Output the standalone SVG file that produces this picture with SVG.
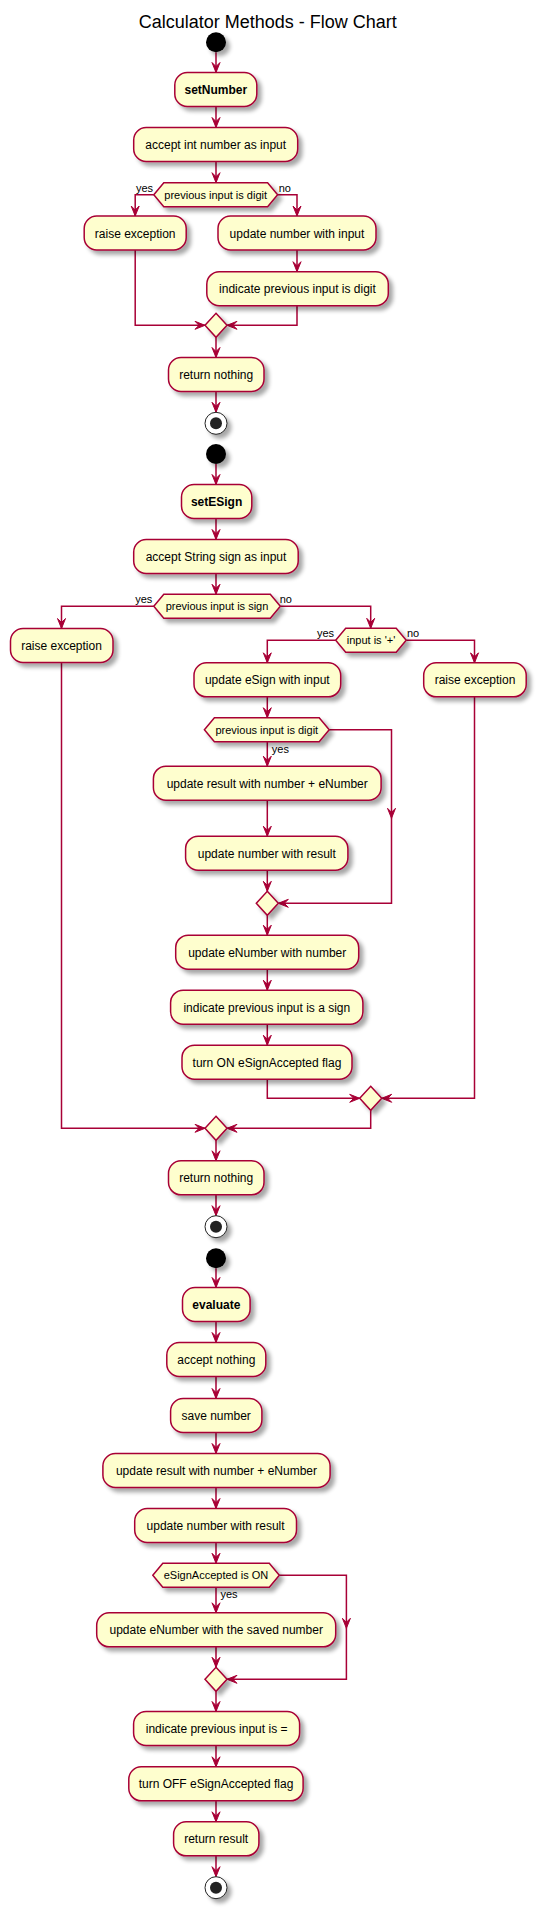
<svg xmlns="http://www.w3.org/2000/svg" width="536" height="1908" viewBox="0 0 536 1908">
<style>
.box{fill:#FEFECE;stroke:#A80036;stroke-width:1.5;filter:url(#sh)}
.t{font-family:"Liberation Sans",Arial,sans-serif;font-size:12px;fill:#000;text-anchor:middle}
.b{font-weight:bold}
.s{font-family:"Liberation Sans",Arial,sans-serif;font-size:11px;fill:#000}
.h{text-anchor:middle}
.e{text-anchor:end}
.c path{fill:none;stroke:#A80036;stroke-width:1.5;marker-end:url(#ah)}
.start{fill:#000;filter:url(#sh)}
</style>
<defs>
<filter id="sh" x="-20%" y="-20%" width="160%" height="160%">
<feGaussianBlur in="SourceAlpha" stdDeviation="2"/>
<feOffset dx="4" dy="4" result="o"/>
<feComponentTransfer><feFuncA type="linear" slope="0.35"/></feComponentTransfer>
<feMerge><feMergeNode/><feMergeNode in="SourceGraphic"/></feMerge>
</filter>
<marker id="ah" viewBox="-11 -5 12 10" refX="0" refY="0" markerWidth="12" markerHeight="10" markerUnits="userSpaceOnUse" orient="auto">
<path d="M0,0 L-10,-4 L-6,0 L-10,4 Z" fill="#A80036" stroke="#A80036" stroke-width="1"/>
</marker>
</defs>
<rect width="536" height="1908" fill="#fff"/>
<text x="267.7" y="28.3" style="font-family:'Liberation Sans',Arial,sans-serif;font-size:18px;text-anchor:middle">Calculator Methods - Flow Chart</text>

<g class="c" id="connectors">
<path d="M216,52.3V72.5"/>
<path d="M216,106.5V127.5"/>
<path d="M216,161.5V182.7"/>
<path d="M153.8,194.7H135.2V216"/>
<path d="M277.6,194.7H297V216"/>
<path d="M297,250V271.7"/>
<path d="M135.2,250V325.3H205"/>
<path d="M297,305.7V325.3H227"/>
<path d="M216,337.3V357.5"/>
<path d="M216,391.5V412.3"/>
<path d="M216,464V484.5"/>
<path d="M216,518.5V539.5"/>
<path d="M216,573.5V594.3"/>
<path d="M153.8,606.3H61.5V628.5"/>
<path d="M280.3,606.3H370.7V628.3"/>
<path d="M335.7,640.3H267.3V662.8"/>
<path d="M406.2,640.3H474.5V662.8"/>
<path d="M267.3,696.8V717.7"/>
<path d="M267.3,741.7V766.2"/>
<path d="M329.2,729.7H391.5V818.3"/>
<path d="M391.5,818V903.3H278.3"/>
<path d="M267.3,800.2V836.2"/>
<path d="M267.3,870.2V891.3"/>
<path d="M267.3,915.3V935.2"/>
<path d="M267.3,969.2V990.2"/>
<path d="M267.3,1024.2V1045.2"/>
<path d="M267.3,1079.2V1098.3H359.7"/>
<path d="M474.5,696.8V1098.3H381.7"/>
<path d="M370.7,1110.3V1128.3H227"/>
<path d="M61.5,662.5V1128.3H205"/>
<path d="M216,1140.3V1160.8"/>
<path d="M216,1194.8V1215.7"/>
<path d="M216,1268.3V1287.5"/>
<path d="M216,1321.5V1342.5"/>
<path d="M216,1376.5V1398.5"/>
<path d="M216,1432.5V1453.5"/>
<path d="M216,1487.5V1508.5"/>
<path d="M216,1542.5V1563.3"/>
<path d="M216,1587.3V1612.8"/>
<path d="M279.3,1575.3H346.4V1628.3"/>
<path d="M346.4,1628V1679.3H227"/>
<path d="M216,1646.8V1667.3"/>
<path d="M216,1691.3V1711.5"/>
<path d="M216,1745.5V1766.8"/>
<path d="M216,1800.8V1821.8"/>
<path d="M216,1855.8V1876.7"/>
</g>

<g id="start1"><circle class="start" cx="216" cy="42.3" r="10"/></g>
<g id="setNumber"><rect class="box" x="174.8" y="72.5" width="82" height="34" rx="12.5"/><text class="t b" x="215.8" y="94">setNumber</text></g>
<g id="acceptInt"><rect class="box" x="133.7" y="127.5" width="164" height="34" rx="12.5"/><text class="t" x="215.7" y="149">accept int number as input</text></g>
<g id="ifDigit1"><polygon class="box" points="153.8,194.7 163.8,182.7 267.6,182.7 277.6,194.7 267.6,206.7 163.8,206.7"/><text class="s h" x="215.7" y="198.7">previous input is digit</text>
<text class="s e" x="153" y="191.5">yes</text><text class="s" x="278.7" y="191.5">no</text></g>
<g id="raise1"><rect class="box" x="84.2" y="216" width="102" height="34" rx="12.5"/><text class="t" x="135.2" y="237.5">raise exception</text></g>
<g id="updNumIn"><rect class="box" x="218" y="216" width="158" height="34" rx="12.5"/><text class="t" x="297" y="237.5">update number with input</text></g>
<g id="indDigit"><rect class="box" x="206.8" y="271.7" width="181.5" height="34" rx="12.5"/><text class="t" x="297.5" y="293.2">indicate previous input is digit</text></g>
<g id="merge1"><polygon class="box" points="216,313.3 227,325.3 216,337.3 205,325.3"/></g>
<g id="return1"><rect class="box" x="168.5" y="357.5" width="95.5" height="34" rx="12.5"/><text class="t" x="216.2" y="379">return nothing</text></g>
<g id="end1"><circle cx="216" cy="423.3" r="11" fill="#fff" stroke="#222" stroke-width="1" filter="url(#sh)"/><circle cx="216" cy="423.3" r="6" fill="#222"/></g>

<g id="start2"><circle class="start" cx="216" cy="454" r="10"/></g>
<g id="setESign"><rect class="box" x="181.5" y="484.5" width="70.3" height="34" rx="12.5"/><text class="t b" x="216.6" y="506">setESign</text></g>
<g id="acceptStr"><rect class="box" x="133.7" y="539.5" width="164.5" height="34" rx="12.5"/><text class="t" x="216" y="561">accept String sign as input</text></g>
<g id="ifSign"><polygon class="box" points="153.8,606.3 163.8,594.3 270.3,594.3 280.3,606.3 270.3,618.3 163.8,618.3"/><text class="s h" x="217" y="610.3">previous input is sign</text>
<text class="s e" x="152.3" y="603">yes</text><text class="s" x="279.7" y="603">no</text></g>
<g id="raise2"><rect class="box" x="10.5" y="628.5" width="102.5" height="34" rx="12.5"/><text class="t" x="61.5" y="650">raise exception</text></g>
<g id="ifPlus"><polygon class="box" points="335.7,640.3 345.7,628.3 396.2,628.3 406.2,640.3 396.2,652.3 345.7,652.3"/><text class="s h" x="371" y="644.3">input is '+'</text>
<text class="s e" x="334" y="637">yes</text><text class="s" x="407" y="637">no</text></g>
<g id="updESign"><rect class="box" x="194" y="662.8" width="146.7" height="34" rx="12.5"/><text class="t" x="267.3" y="684.3">update eSign with input</text></g>
<g id="raise3"><rect class="box" x="423.7" y="662.8" width="102.5" height="34" rx="12.5"/><text class="t" x="475" y="684.3">raise exception</text></g>
<g id="ifDigit2"><polygon class="box" points="204.4,729.7 214.4,717.7 319.2,717.7 329.2,729.7 319.2,741.7 214.4,741.7"/><text class="s h" x="266.8" y="733.7">previous input is digit</text>
<text class="s" x="271.8" y="752.5">yes</text></g>
<g id="updResult1"><rect class="box" x="153.4" y="766.2" width="227.7" height="34" rx="12.5"/><text class="t" x="267.2" y="787.7">update result with number + eNumber</text></g>
<g id="updNumRes1"><rect class="box" x="185.6" y="836.2" width="162.3" height="34" rx="12.5"/><text class="t" x="266.8" y="857.7">update number with result</text></g>
<g id="merge2"><polygon class="box" points="267.3,891.3 278.3,903.3 267.3,915.3 256.3,903.3"/></g>
<g id="updENum"><rect class="box" x="175.7" y="935.2" width="183" height="34" rx="12.5"/><text class="t" x="267.2" y="956.7">update eNumber with number</text></g>
<g id="indSign"><rect class="box" x="170.6" y="990.2" width="192.3" height="34" rx="12.5"/><text class="t" x="266.8" y="1011.7">indicate previous input is a sign</text></g>
<g id="turnOn"><rect class="box" x="182" y="1045.2" width="170" height="34" rx="12.5"/><text class="t" x="267" y="1066.7">turn ON eSignAccepted flag</text></g>
<g id="merge3"><polygon class="box" points="370.7,1086.3 381.7,1098.3 370.7,1110.3 359.7,1098.3"/></g>
<g id="merge4"><polygon class="box" points="216,1116.3 227,1128.3 216,1140.3 205,1128.3"/></g>
<g id="return2"><rect class="box" x="168.5" y="1160.8" width="95.5" height="34" rx="12.5"/><text class="t" x="216.2" y="1182.3">return nothing</text></g>
<g id="end2"><circle cx="216" cy="1226.7" r="11" fill="#fff" stroke="#222" stroke-width="1" filter="url(#sh)"/><circle cx="216" cy="1226.7" r="6" fill="#222"/></g>

<g id="start3"><circle class="start" cx="216" cy="1258.3" r="10"/></g>
<g id="evaluate"><rect class="box" x="182.5" y="1287.5" width="67.6" height="34" rx="12.5"/><text class="t b" x="216.3" y="1309">evaluate</text></g>
<g id="acceptNothing"><rect class="box" x="166.8" y="1342.5" width="99" height="34" rx="12.5"/><text class="t" x="216.3" y="1364">accept nothing</text></g>
<g id="saveNumber"><rect class="box" x="170.6" y="1398.5" width="91.3" height="34" rx="12.5"/><text class="t" x="216.2" y="1420">save number</text></g>
<g id="updResult2"><rect class="box" x="102.9" y="1453.5" width="227.2" height="34" rx="12.5"/><text class="t" x="216.5" y="1475">update result with number + eNumber</text></g>
<g id="updNumRes2"><rect class="box" x="134.7" y="1508.5" width="161.8" height="34" rx="12.5"/><text class="t" x="215.6" y="1530">update number with result</text></g>
<g id="ifAccepted"><polygon class="box" points="152.8,1575.3 162.8,1563.3 269.3,1563.3 279.3,1575.3 269.3,1587.3 162.8,1587.3"/><text class="s h" x="216" y="1579.3">eSignAccepted is ON</text>
<text class="s" x="220.5" y="1598">yes</text></g>
<g id="updENumSaved"><rect class="box" x="96.7" y="1612.8" width="239" height="34" rx="12.5"/><text class="t" x="216.2" y="1634.3">update eNumber with the saved number</text></g>
<g id="merge5"><polygon class="box" points="216,1667.3 227,1679.3 216,1691.3 205,1679.3"/></g>
<g id="indEq"><rect class="box" x="133.6" y="1711.5" width="166" height="34" rx="12.5"/><text class="t" x="216.6" y="1733">indicate previous input is =</text></g>
<g id="turnOff"><rect class="box" x="128.8" y="1766.8" width="174.3" height="34" rx="12.5"/><text class="t" x="216" y="1788.3">turn OFF eSignAccepted flag</text></g>
<g id="returnResult"><rect class="box" x="173.6" y="1821.8" width="85.3" height="34" rx="12.5"/><text class="t" x="216.2" y="1843.3">return result</text></g>
<g id="end3"><circle cx="216" cy="1887.7" r="11" fill="#fff" stroke="#222" stroke-width="1" filter="url(#sh)"/><circle cx="216" cy="1887.7" r="6" fill="#222"/></g>
</svg>
